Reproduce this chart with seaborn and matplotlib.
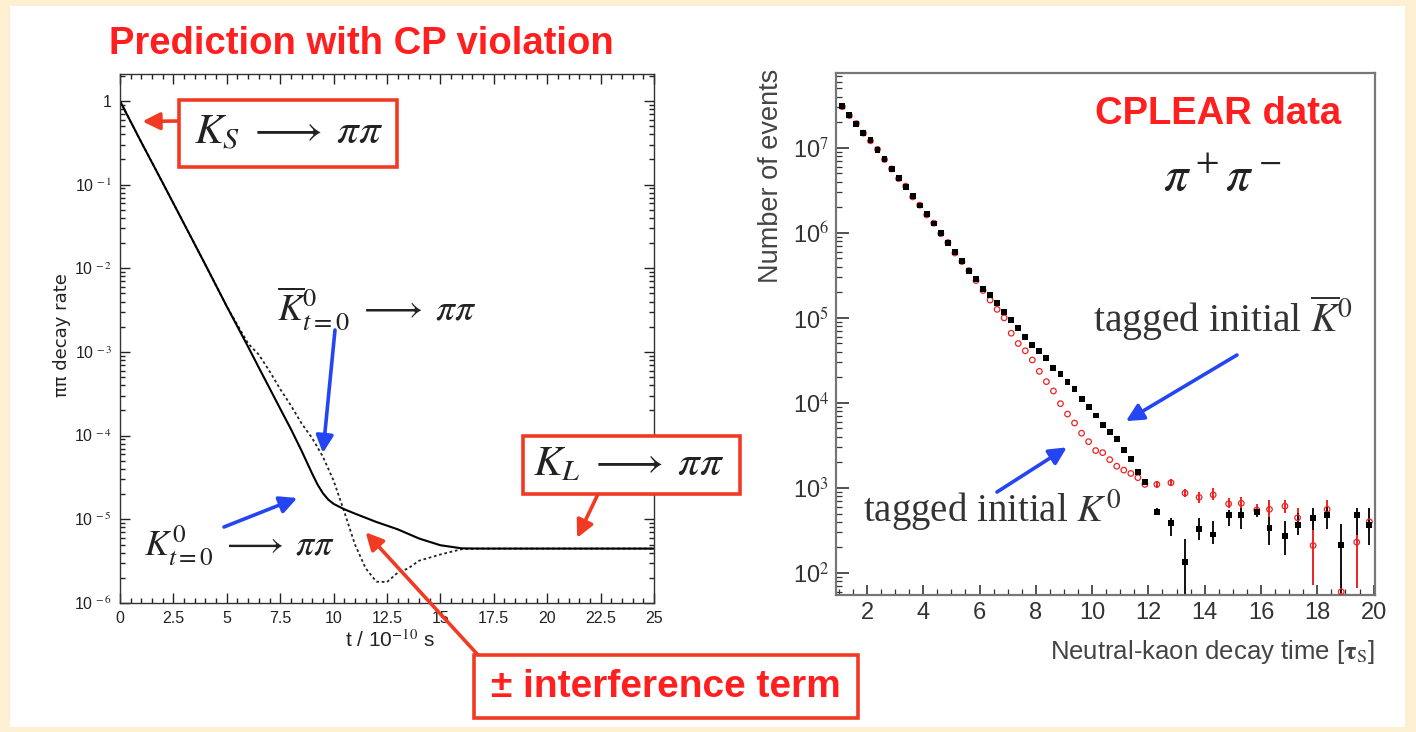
import matplotlib
matplotlib.use("Agg")
import numpy as np
import pandas as pd
import matplotlib.pyplot as plt
from matplotlib.patches import Rectangle
from matplotlib.ticker import FixedLocator, MultipleLocator, LogLocator, NullFormatter
import seaborn as sns

# ── Style ────────────────────────────────────────────────────────────────────
sns.set_theme(style="ticks")
plt.rcParams["font.family"] = ["Liberation Sans", "DejaVu Sans"]
plt.rcParams["mathtext.fontset"] = "stix"

RED = "#ff1f1f"
BOX_RED = "#f23a22"
BLUE = "#2446f2"

# ── Left panel: predicted pi-pi decay rate (t in 1e-10 s) ───────────────────
t_k0 = [0, 1, 2, 3, 4, 5, 6, 6.5, 7, 7.5, 8, 8.5, 9, 9.25, 9.5, 9.75, 10, 10.5, 11,
        12, 13, 14, 15, 16, 17, 20, 25]
rate_k0 = [1.0, 0.32, 0.105, 0.034, 0.011, 3.5e-3, 1.15e-3, 6.5e-4, 3.7e-4,
           2.1e-4, 1.2e-4, 6.6e-5, 3.5e-5, 2.6e-5, 2.05e-5, 1.72e-5, 1.53e-5,
           1.32e-5, 1.17e-5, 9.3e-6, 7.6e-6, 5.9e-6, 4.9e-6, 4.5e-6, 4.47e-6,
           4.47e-6, 4.47e-6]

t_k0bar = [0, 1, 2, 3, 4, 5, 6, 6.5, 7, 7.5, 8, 8.5, 9, 9.5, 10, 10.5, 11,
           11.5, 12, 12.5, 13, 13.5, 14, 15, 16, 17, 20, 25]
rate_k0bar = [1.0, 0.32, 0.105, 0.034, 0.011, 3.5e-3, 1.26e-3, 9.3e-4, 5.9e-4,
              3.6e-4, 2.3e-4, 1.4e-4, 9.3e-5, 5.6e-5, 2.9e-5, 1.23e-5, 5.0e-6,
              2.6e-6, 1.8e-6, 1.78e-6, 2.3e-6, 2.6e-6, 3.2e-6, 3.8e-6, 4.4e-6,
              4.47e-6, 4.47e-6, 4.47e-6]

left_xticks = [0, 2.5, 5, 7.5, 10, 12.5, 15, 17.5, 20, 22.5, 25]
left_xticklabels = ["0", "2.5", "5", "7.5", "10", "12.5", "15", "17.5", "20", "22.5", "25"]
left_yticks = [1, 1e-1, 1e-2, 1e-3, 1e-4, 1e-5, 1e-6]
left_yticklabels = ["1", r"10$^{\,-1}$", r"10$^{\,-2}$", r"10$^{\,-3}$",
                    r"10$^{\,-4}$", r"10$^{\,-5}$", r"10$^{\,-6}$"]

# ── Right panel: CPLEAR pi+pi- data (t in units of tau_S) ───────────────────
t_fine = [1.125, 1.375, 1.625, 1.875, 2.125, 2.375, 2.625, 2.875, 3.125, 3.375,
          3.625, 3.875, 4.125, 4.375, 4.625, 4.875, 5.125, 5.375, 5.625, 5.875,
          6.125, 6.375, 6.625, 6.875, 7.125, 7.375, 7.625, 7.875, 8.125, 8.375,
          8.625, 8.875, 9.125, 9.375, 9.625, 9.875, 10.125, 10.375, 10.625,
          10.875, 11.125, 11.375, 11.625, 11.875]
n_k0bar_fine = [3.09e7, 2.45e7, 1.91e7, 1.51e7, 1.23e7, 9.5e6, 7.4e6, 5.6e6,
                4.4e6, 3.5e6, 2.7e6, 2.1e6, 1.66e6, 1.29e6, 1.0e6, 7.6e5, 5.9e5,
                4.7e5, 3.6e5, 2.9e5, 2.2e5, 1.86e5, 1.48e5, 1.17e5, 9.5e4, 7.6e4,
                5.9e4, 4.8e4, 4.1e4, 3.4e4, 2.6e4, 2.2e4, 1.78e4, 1.45e4, 1.1e4,
                8.9e3, 7.1e3, 5.5e3, 4.6e3, 3.8e3, 2.8e3, 2.2e3, 1.55e3, 1.17e3]
n_k0_fine = [3.05e7, 2.4e7, 1.93e7, 1.49e7, 1.21e7, 9.6e6, 7.3e6, 5.65e6,
             4.35e6, 3.55e6, 2.65e6, 2.12e6, 1.63e6, 1.3e6, 9.8e5, 7.7e5, 5.8e5,
             4.6e5, 3.6e5, 2.75e5, 2.1e5, 1.62e5, 1.26e5, 1.0e5, 6.6e4, 5.0e4,
             4.1e4, 3.2e4, 2.35e4, 1.78e4, 1.38e4, 9.8e3, 7.4e3, 5.8e3, 4.4e3,
             3.5e3, 2.75e3, 2.6e3, 2.15e3, 1.8e3, 1.62e3, 1.48e3, 1.32e3, 1.1e3]

t_late = [12.3, 12.8, 13.3, 13.8, 14.3, 14.85, 15.3, 15.85, 16.3, 16.85,
          17.3, 17.85, 18.35, 18.85, 19.4, 19.85]
n_k0bar_late = [525, 385, 135, 325, 283, 480, 480, 525, 340, 270, 367, 440, 480, 213, 480, 367]
n_k0bar_lo = [475, 275, 40, 242, 220, 360, 333, 460, 213, 163, 283, 322, 333, 58, 283, 213]
n_k0bar_hi = [580, 445, 250, 445, 405, 550, 575, 550, 460, 405, 505, 575, 603, 375, 575, 575]
n_k0_late = [1100, 1150, 870, 775, 830, 650, 660, 550, 560, 610, 445, 210, 560, 60, 230, 400]
n_k0_lo = [1000, 1050, 790, 665, 725, 575, 575, 480, 460, 505, 295, 72, 445, 40, 66, 295]
n_k0_hi = [1200, 1260, 960, 905, 990, 760, 790, 640, 725, 725, 575, 505, 725, 110, 505, 575]

right_xticks = [2, 4, 6, 8, 10, 12, 14, 16, 18, 20]
right_yticks = [1e2, 1e3, 1e4, 1e5, 1e6, 1e7]
right_yticklabels = [r"10$^{2}$", r"10$^{3}$", r"10$^{4}$", r"10$^{5}$", r"10$^{6}$", r"10$^{7}$"]

# ── Figure (pixel helpers, y measured from top) ─────────────────────────────
W, H = 1416, 732


def fx(x):
    return x / W


def fy(y):
    return 1 - y / H


fig = plt.figure(figsize=(W / 100, H / 100), dpi=100)
fig.patch.set_facecolor("#fcefd2")
fig.add_artist(Rectangle((fx(10), fy(727)), (1405 - 10) / W, (727 - 6) / H,
                         transform=fig.transFigure, facecolor="white",
                         edgecolor="none", zorder=-10))

# ── Left axes ───────────────────────────────────────────────────────────────
ax1 = fig.add_axes([fx(120), fy(603), (654 - 120) / W, (603 - 74) / H])
ax1.set_facecolor("white")
df_k0 = pd.DataFrame({"t": t_k0, "rate": rate_k0})
df_k0bar = pd.DataFrame({"t": t_k0bar, "rate": rate_k0bar})
sns.lineplot(data=df_k0bar, x="t", y="rate", ax=ax1, color="#222222", lw=1.3,
             linestyle=(0, (1.5, 1.5)), estimator=None, sort=False)
sns.lineplot(data=df_k0, x="t", y="rate", ax=ax1, color="black", lw=1.5,
             estimator=None, sort=False)
ax1.set_yscale("log")
ax1.set_xlim(0, 25)
ax1.set_ylim(1e-6, 2.1)
ax1.set_xlabel("")
ax1.set_ylabel("")
ax1.xaxis.set_major_locator(FixedLocator(left_xticks))
ax1.set_xticklabels(left_xticklabels)
ax1.xaxis.set_minor_locator(MultipleLocator(0.5))
ax1.yaxis.set_major_locator(FixedLocator(left_yticks))
ax1.set_yticklabels(left_yticklabels)
ax1.yaxis.set_minor_locator(LogLocator(base=10, subs=np.arange(2, 10)))
ax1.yaxis.set_minor_formatter(NullFormatter())
ax1.tick_params(which="both", direction="in", top=True, right=True,
                colors="#222222", width=1)
ax1.tick_params(axis="x", labelsize=11.5)
ax1.tick_params(axis="y", labelsize=11.5)
ax1.tick_params(which="major", length=7, pad=6)
ax1.tick_params(which="minor", length=3.5)
for s in ax1.spines.values():
    s.set_color("#333333")
    s.set_linewidth(1.0)

fig.text(fx(62), fy(335), "ππ decay rate", rotation=90, ha="center", va="center",
         fontsize=13, color="#222222", family=["DejaVu Sans"])
fig.text(fx(390), fy(640), r"t / 10$^{-10}$ s", ha="center", va="center",
         fontsize=15, color="#222222")
fig.text(fx(361), fy(44), "Prediction with CP violation", ha="center", va="center",
         fontsize=27.5, fontweight="bold", color=RED)

# ── Right axes ──────────────────────────────────────────────────────────────
ax2 = fig.add_axes([fx(836), fy(595), (1375 - 836) / W, (595 - 73) / H])
ax2.set_facecolor("white")

df_fine = pd.DataFrame({"t": t_fine, "k0": n_k0_fine, "k0bar": n_k0bar_fine})
df_late = pd.DataFrame({"t": t_late, "k0": n_k0_late, "k0bar": n_k0bar_late,
                        "k0_lo": n_k0_lo, "k0_hi": n_k0_hi,
                        "k0bar_lo": n_k0bar_lo, "k0bar_hi": n_k0bar_hi})

ax2.errorbar(df_late["t"], df_late["k0"],
             yerr=[df_late["k0"] - df_late["k0_lo"], df_late["k0_hi"] - df_late["k0"]],
             fmt="none", ecolor="#ee2222", elinewidth=1.4, capsize=0)
ax2.errorbar(df_late["t"], df_late["k0bar"],
             yerr=[df_late["k0bar"] - df_late["k0bar_lo"], df_late["k0bar_hi"] - df_late["k0bar"]],
             fmt="none", ecolor="#111111", elinewidth=1.4, capsize=0)

all_k0 = pd.concat([df_fine[["t", "k0"]], df_late[["t", "k0"]]])
all_k0bar = pd.concat([df_fine[["t", "k0bar"]], df_late[["t", "k0bar"]]])
sns.scatterplot(data=all_k0, x="t", y="k0", ax=ax2, marker="o", s=16,
                facecolor="none", edgecolor="#ee2222", linewidth=0.9, zorder=3)
sns.scatterplot(data=all_k0bar, x="t", y="k0bar", ax=ax2, marker="s", s=18,
                color="black", edgecolor="none", linewidth=0, zorder=4)

ax2.set_yscale("log")
ax2.set_xlim(0.9, 20.05)
ax2.set_ylim(55, 7.6e7)
ax2.set_xlabel("")
ax2.set_ylabel("")
ax2.xaxis.set_major_locator(FixedLocator(right_xticks))
ax2.xaxis.set_minor_locator(MultipleLocator(0.5))
ax2.yaxis.set_major_locator(FixedLocator(right_yticks))
ax2.set_yticklabels(right_yticklabels)
ax2.yaxis.set_minor_locator(LogLocator(base=10, subs=np.arange(2, 10)))
ax2.yaxis.set_minor_formatter(NullFormatter())
ax2.tick_params(which="both", direction="in", labelsize=17, colors="#333333")
ax2.tick_params(which="major", length=9, width=1.2, pad=5)
ax2.tick_params(which="minor", length=4.5, width=0.9)
ax2.tick_params(axis="x", which="major", length=7)
for s in ax2.spines.values():
    s.set_color("#777777")
    s.set_linewidth(1.6)

fig.text(fx(771), fy(176), "Number of events", rotation=90, ha="center", va="center",
         fontsize=19.5, color="#444444")
fig.text(fx(1375), fy(652), r"Neutral-kaon decay time [$\mathbf{\tau}_\mathrm{S}$]",
         ha="right", va="center", fontsize=18.5, color="#444444")
fig.text(fx(1218), fy(114), "CPLEAR data", ha="center", va="center",
         fontsize=27.5, fontweight="bold", color=RED)
fig.text(fx(1222), fy(178), r"$\pi^+\pi^-$", ha="center", va="center",
         fontsize=35, color="#222222")

# ── Boxed labels ────────────────────────────────────────────────────────────
def box(x0, y0, x1, y1):
    fig.add_artist(Rectangle((fx(x0), fy(y1)), (x1 - x0) / W, (y1 - y0) / H,
                             transform=fig.transFigure, facecolor="white",
                             edgecolor=BOX_RED, linewidth=2.6, zorder=2))


box(179, 100, 397, 167)
fig.text(fx(289), fy(133), r"$K_S \;\longrightarrow\; \pi\pi$", ha="center", va="center",
         fontsize=31, color="#222222", zorder=3)
box(523, 436, 740, 494)
fig.text(fx(629), fy(464), r"$K_L \;\longrightarrow\; \pi\pi$", ha="center", va="center",
         fontsize=31, color="#222222", zorder=3)
box(474, 655, 858, 718)
fig.text(fx(666), fy(687), "± interference term", ha="center", va="center",
         fontsize=28, fontweight="bold", color=RED, zorder=3)

# ── Free labels ─────────────────────────────────────────────────────────────
fig.text(fx(377), fy(308), r"$\overline{K}^0_{t=0} \;\longrightarrow\; \pi\pi$",
         ha="center", va="center", fontsize=27, color="#222222")
fig.text(fx(240), fy(545), r"$K^0_{t=0} \;\longrightarrow\; \pi\pi$",
         ha="center", va="center", fontsize=26, color="#222222")
fig.text(fx(1223), fy(318), r"tagged initial $\overline{K}^0$", ha="center", va="center",
         fontsize=28.5, color="#333333", family=["Liberation Serif"])
fig.text(fx(992), fy(510), r"tagged initial $K^0$", ha="center", va="center",
         fontsize=28, color="#333333", family=["Liberation Serif"])

# ── Arrows ──────────────────────────────────────────────────────────────────
def arrow(ax, tip, start, color):
    ax.annotate("", xy=tip, xycoords="data",
                xytext=(fx(start[0]), fy(start[1])), textcoords="figure fraction",
                arrowprops=dict(arrowstyle="-|>", color=color, lw=2.6,
                                mutation_scale=26, shrinkA=0, shrinkB=0),
                annotation_clip=False)


arrow(ax1, (1.05, 0.57), (180, 121), BOX_RED)        # K_S
arrow(ax1, (9.5, 6.2e-5), (335, 330), BLUE)          # K0bar curve
arrow(ax1, (8.3, 1.8e-5), (224, 527), BLUE)          # K0 curve
arrow(ax1, (21.4, 6.0e-6), (598, 494), BOX_RED)      # K_L
arrow(ax1, (11.5, 7.0e-6), (478, 655), BOX_RED)      # interference
arrow(ax2, (11.2, 6.1e3), (1237, 355), BLUE)         # tagged K0bar
arrow(ax2, (9.1, 3.0e3), (997, 492), BLUE)           # tagged K0

fig.savefig("out.png", dpi=100, facecolor=fig.get_facecolor())
